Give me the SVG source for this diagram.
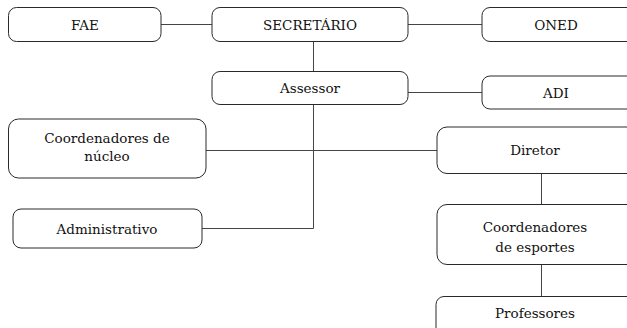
<svg xmlns="http://www.w3.org/2000/svg" width="627" height="328" viewBox="0 0 627 328">
<style>
.b{fill:#fff;stroke:#2a2a2a;stroke-width:1}
.t{font-family:'DejaVu Serif',serif;font-size:13.5px;fill:#111;text-anchor:middle}
.c{stroke:#444;stroke-width:1;fill:none}
</style>
<rect width="627" height="328" fill="#fff"/>
<g id="connectors">
<line class="c" x1="161" y1="24.5" x2="212" y2="24.5"/>
<line class="c" x1="408" y1="24.5" x2="482" y2="24.5"/>
<line class="c" x1="313.5" y1="41.5" x2="313.5" y2="71.5"/>
<line class="c" x1="408" y1="92.5" x2="482" y2="92.5"/>
<polyline class="c" points="313.5,104.5 313.5,228.5 202,228.5"/>
<line class="c" x1="206" y1="150.5" x2="437" y2="150.5"/>
<line class="c" x1="541.5" y1="173.5" x2="541.5" y2="204.5"/>
<line class="c" x1="541.5" y1="264.5" x2="541.5" y2="296.5"/>
</g>
<g id="fae"><rect class="b" x="8.5" y="7.5" width="152.5" height="34" rx="8"/><text class="t" x="85" y="29.5">FAE</text></g>
<g id="secretario"><rect class="b" x="212" y="7.5" width="196" height="34" rx="8"/><text class="t" x="310" y="29.5">SECRETÁRIO</text></g>
<g id="oned"><rect class="b" x="482" y="7.5" width="160" height="34" rx="8"/><text class="t" x="556" y="29.5">ONED</text></g>
<g id="assessor"><rect class="b" x="212" y="71.5" width="196" height="33" rx="8"/><text class="t" x="310" y="93">Assessor</text></g>
<g id="adi"><rect class="b" x="482" y="76" width="160" height="33" rx="8"/><text class="t" x="556" y="97.5">ADI</text></g>
<g id="coord-nucleo"><rect class="b" x="8.5" y="119" width="197.5" height="59" rx="10"/><text class="t" x="107" y="143">Coordenadores de</text><text class="t" x="107" y="161">núcleo</text></g>
<g id="administrativo"><rect class="b" x="13" y="209" width="189" height="39" rx="8"/><text class="t" x="107" y="233.5">Administrativo</text></g>
<g id="diretor"><rect class="b" x="437" y="127" width="210" height="46.5" rx="10"/><text class="t" x="535" y="155">Diretor</text></g>
<g id="coord-esportes"><rect class="b" x="437" y="204.5" width="210" height="60" rx="10"/><text class="t" x="535" y="232">Coordenadores</text><text class="t" x="535" y="252">de esportes</text></g>
<g id="professores"><rect class="b" x="436" y="296.5" width="210" height="40" rx="8"/><text class="t" x="535" y="318">Professores</text></g>
</svg>
